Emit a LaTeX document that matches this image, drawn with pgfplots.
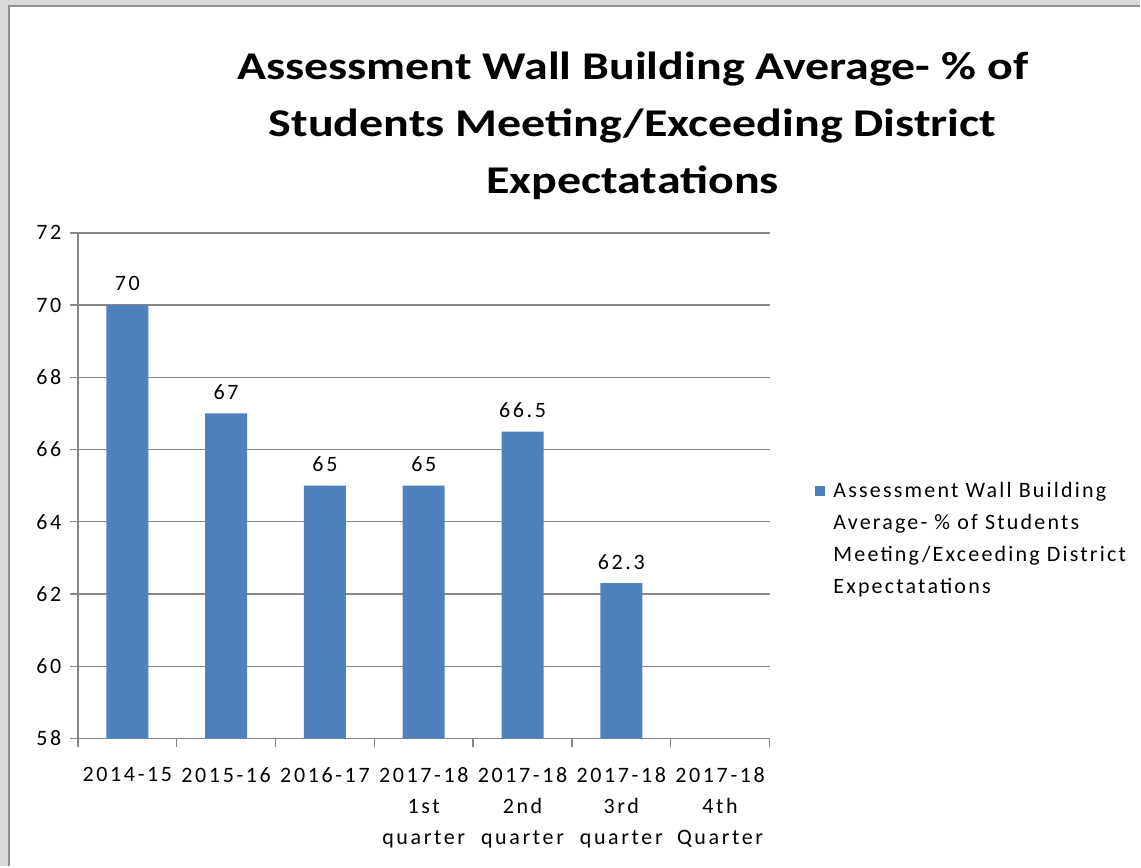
\documentclass[border=0pt]{standalone}
\usepackage{pgfplots}
\pgfplotsset{compat=1.18}
\usepackage{fontspec}
\setmainfont{Carlito}
\newfontfamily\tickfont[LetterSpace=12]{Carlito}
\newfontfamily\legfont[LetterSpace=10]{Carlito}
\newfontfamily\titlefont[FakeStretch=1.22]{Carlito}
\definecolor{barblue}{HTML}{4F81BD}
\definecolor{gridgray}{HTML}{878787}
\definecolor{outergray}{HTML}{D9D9D9}
\definecolor{framegray}{HTML}{8F8F8F}
\def\px{0.75pt}
\begin{document}
\begin{tikzpicture}
\fill[outergray] (0,0) rectangle (1141*\px,-867*\px);
\fill[white] (9*\px,-6*\px) rectangle (1141*\px,-867*\px);
\draw[framegray, line width=1.5*\px] (9*\px,-867*\px) -- (9*\px,-6*\px) -- (1141*\px,-6*\px);
\node[font=\titlefont\bfseries\fontsize{29.5}{42.75}\selectfont, align=center, anchor=north] at (633*\px,-47*\px)
  {Assessment Wall Building Average- \% of\\Students Meeting/Exceeding District\\Expectatations};
\begin{axis}[
  at={(78*\px,-739*\px)}, anchor=south west,
  scale only axis, width=692*\px, height=506*\px,
  xmin=-0.5, xmax=6.5, ymin=58, ymax=72,
  ytick={58,60,...,72},
  xtick={0,...,6},
  xticklabels={2014-15,2015-16,2016-17,{2017-18\\1st\\quarter},{2017-18\\2nd\\quarter},{2017-18\\3rd\\quarter},{2017-18\\4th\\Quarter}},
  xticklabel style={align=center, font=\tickfont\fontsize{16.5}{23.25}\selectfont, yshift=-12pt},
  yticklabel style={font=\tickfont\fontsize{16.5}{20}\selectfont, xshift=-3pt},
  /pgf/number format/assume math mode=true,
  major x tick style={draw=none},
  minor xtick={-0.5,0.5,...,6.5},
  tick align=outside,
  major tick length=6pt, minor tick length=6pt,
  tick style={gridgray, line width=1pt},
  ymajorgrids, grid style={gridgray, line width=1pt},
  axis x line*=bottom, axis y line*=left,
  axis line style={gridgray, line width=1pt, -},
  ybar, bar width=42*\px,
  nodes near coords,
  every node near coord/.append style={font=\tickfont\fontsize{16.5}{20}\selectfont, text=black, yshift=7pt},
  legend style={draw=none, fill=none, at={(1.0592,0.517)}, anchor=north west, legend cell align=left,
    font=\legfont\fontsize{16.5}{24}\selectfont, nodes={align=left}},
  legend image code/.code={\fill[barblue] (0pt,32.5pt) rectangle (7.5pt,40pt); \path (12pt,36pt);},
]
\addplot[fill=barblue, draw=none] coordinates {(0,70) (1,67) (2,65) (3,65) (4,66.5) (5,62.3)};
\addlegendentry{Assessment Wall Building\\Average- \% of Students\\Meeting/Exceeding District\\Expectatations}
\end{axis}
\end{tikzpicture}
\end{document}
